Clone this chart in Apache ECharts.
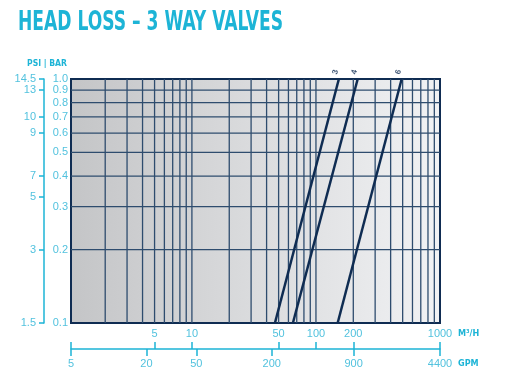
<!DOCTYPE html>
<html>
<head>
<meta charset="utf-8">
<script src="https://cdn.jsdelivr.net/npm/echarts@6/dist/echarts.min.js"></script>
<style>html,body{margin:0;padding:0;background:#fff}#c{width:512px;height:392px}</style>
</head>
<body>
<div id="c"></div>
<script>
// ---- data ----
const titleText = 'HEAD LOSS – 3 WAY VALVES';
const xMin = 1.06, xMax = 1000;          // m³/h
const gpmMin = 5, gpmMax = 4400;         // GPM
const yMin = 0.1, yMax = 1.0;            // bar
const m3hTicks = [5, 10, 50, 100, 200, 1000];
const gpmTicks = [5, 20, 50, 200, 900, 4400];
const barTicks = [0.1, 0.2, 0.3, 0.4, 0.5, 0.6, 0.7, 0.8, 0.9, 1.0];
const psiLabels = ['14.5', '13', '10', '9', '7', '5', '3', '1.5'];
const psiAtBar  = [1.0, 0.9, 0.7, 0.6, 0.4, 0.33, 0.2, 0.1];
const xGrid = [2,3,4,5,6,7,8,9,10,20,30,40,50,60,70,80,90,100,200,300,400,500,600,700,800,900];
const yGrid = [0.2,0.3,0.4,0.5,0.6,0.7,0.8,0.9];
const valveSizes = ['3', '4', '6'];
const flowLow  = [46.7, 65.2, 149.6];   // m³/h at 0.1 bar
const flowHigh = [153, 217, 491];       // m³/h at 1.0 bar
const lossLow = 0.1, lossHigh = 1.0;

// ---- styles ----
const CYAN = '#1db4d6', LABEL = '#52c2de', NAVY = '#0f2c52', GRIDC = '#2e4c6e';
const FONT = '"Liberation Sans", Arial, sans-serif';
const NARROW = '"Liberation Sans Narrow", "DejaVu Sans Condensed", sans-serif';
const fmt = v => String(+(+v).toPrecision(6));

function measure(text, font) {
  const c = document.createElement('canvas').getContext('2d');
  c.font = font; return c.measureText(text).width;
}

const chart = echarts.init(document.getElementById('c'), null, {renderer: 'canvas'});

const series = [];
xGrid.forEach(v => series.push({
  type: 'line', xAxisIndex: 0, yAxisIndex: 0, silent: true, symbol: 'none', z: 1,
  lineStyle: {color: GRIDC, width: 1.3}, data: [[v, yMin], [v, yMax]]
}));
yGrid.forEach(v => series.push({
  type: 'line', xAxisIndex: 0, yAxisIndex: 0, silent: true, symbol: 'none', z: 1,
  lineStyle: {color: GRIDC, width: 1.3}, data: [[xMin, v], [xMax, v]]
}));
valveSizes.forEach((name, i) => series.push({
  type: 'line', name, xAxisIndex: 0, yAxisIndex: 0, symbol: 'none', z: 5,
  lineStyle: {color: NAVY, width: 2.5},
  data: [[flowLow[i], lossLow], [flowHigh[i], lossHigh]]
}));
series.push({
  type: 'scatter', xAxisIndex: 0, yAxisIndex: 0, z: 6, silent: true, clip: false,
  symbolSize: 2, itemStyle: {color: 'rgba(0,0,0,0)'},
  label: {show: true, position: 'top', distance: 3, offset: [2, 0], rotate: 75,
    formatter: p => valveSizes[p.dataIndex],
    color: NAVY, fontSize: 8, fontWeight: 'bold', fontFamily: FONT},
  data: flowHigh.map(f => [f, lossHigh])
});

const titleFont = 'bold 27px ' + NARROW;
const titleScale = 265 / measure(titleText, titleFont);
const hdrFont = 'bold 9px ' + NARROW;
const hdrScale = 40 / measure('PSI | BAR', hdrFont);
const unitFont = 'bold 9px ' + NARROW;

chart.setOption({
  animation: false,
  grid: {
    left: 71, right: 72, top: 79, bottom: 69, show: true,
    backgroundColor: {type: 'linear', x: 0, y: 0, x2: 1, y2: 0,
      colorStops: [{offset: 0, color: '#c4c5c7'}, {offset: 1, color: '#f1f2f4'}]},
    borderColor: NAVY, borderWidth: 2
  },
  xAxis: [
    {type: 'log', logBase: 10, min: xMin, max: xMax, position: 'bottom',
      axisLine: {show: false}, axisTick: {show: false}, splitLine: {show: false}, minorSplitLine: {show: false},
      axisLabel: {customValues: m3hTicks, margin: 5, color: LABEL, fontSize: 11, fontFamily: FONT, formatter: fmt}},
    {type: 'log', logBase: 10, min: gpmMin, max: gpmMax, position: 'bottom', offset: 26,
      axisLine: {show: true, lineStyle: {color: CYAN, width: 1.5}},
      axisTick: {show: true, length: 7, customValues: gpmTicks, lineStyle: {color: CYAN, width: 1.5}},
      splitLine: {show: false},
      axisLabel: {customValues: gpmTicks, margin: 9, color: LABEL, fontSize: 11, fontFamily: FONT, formatter: fmt}},
    {type: 'log', logBase: 10, min: xMin, max: xMax, position: 'bottom', offset: 26,
      axisLine: {show: false}, splitLine: {show: false},
      axisTick: {show: true, inside: true, length: 7, customValues: [xMin].concat(m3hTicks), lineStyle: {color: CYAN, width: 1.5}},
      axisLabel: {show: false}}
  ],
  yAxis: [
    {type: 'log', logBase: 10, min: yMin, max: yMax, position: 'left',
      axisLine: {show: false}, axisTick: {show: false}, splitLine: {show: false},
      axisLabel: {customValues: barTicks, margin: 3, color: LABEL, fontSize: 11, fontFamily: FONT, formatter: v => (+v).toFixed(1)}},
    {type: 'log', logBase: 10, min: yMin, max: yMax, position: 'left', offset: 27,
      axisLine: {show: true, lineStyle: {color: CYAN, width: 1.5}},
      axisTick: {show: true, length: 5, customValues: psiAtBar, lineStyle: {color: CYAN, width: 1.5}},
      splitLine: {show: false},
      axisLabel: {customValues: psiAtBar, margin: 8, color: LABEL, fontSize: 11, fontFamily: FONT,
        formatter: v => { const i = psiAtBar.findIndex(p => Math.abs(p - v) < 1e-6); return i >= 0 ? psiLabels[i] : ''; }}}
  ],
  graphic: [
    {type: 'text', x: 18, y: 23, scaleX: titleScale, style: {text: titleText, font: titleFont, fill: CYAN, verticalAlign: 'middle'}},
    {type: 'text', x: 27, y: 64, scaleX: hdrScale, style: {text: 'PSI | BAR', font: hdrFont, fill: CYAN, verticalAlign: 'middle'}},
    {type: 'text', x: 458, y: 334, style: {text: 'M³/H', font: unitFont, fill: CYAN, verticalAlign: 'middle'}},
    {type: 'text', x: 458, y: 364, style: {text: 'GPM', font: unitFont, fill: CYAN, verticalAlign: 'middle'}}
  ],
  series
});
</script>
</body>
</html>
